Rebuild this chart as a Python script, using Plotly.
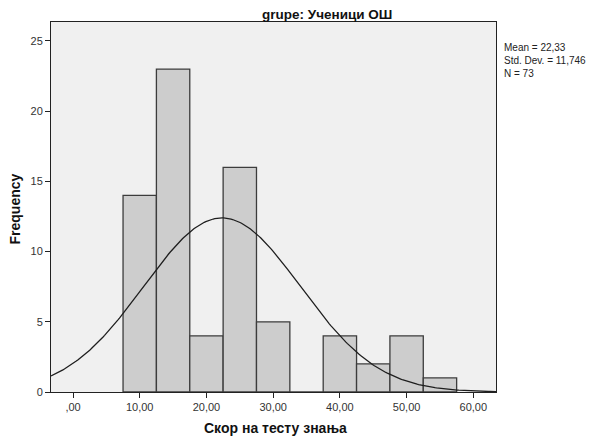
import numpy as np
import plotly.graph_objects as go

bin_centers = [10, 15, 20, 25, 30, 35, 40, 45, 50, 55]
counts = [14, 23, 4, 16, 5, 0, 4, 2, 4, 1]
bin_width = 5
mean_label = "22,33"
std_label = "11,746"
mean = 22.33
std = 11.746
n = 73
x_ticks = [0, 10, 20, 30, 40, 50, 60]
x_tick_labels = [",00", "10,00", "20,00", "30,00", "40,00", "50,00", "60,00"]
y_ticks = [0, 5, 10, 15, 20, 25]

xr = [-3.3, 63.4]
yr = [0, 26.35]

xs = np.linspace(xr[0], xr[1], 300)
ys = n * bin_width / (std * np.sqrt(2 * np.pi)) * np.exp(-0.5 * ((xs - mean) / std) ** 2)

fig = go.Figure()
fig.add_trace(go.Bar(
    x=bin_centers, y=counts, width=[bin_width] * len(bin_centers),
    marker=dict(color="#CDCDCD", line=dict(color="#3C3C3C", width=1.3)),
    hoverinfo="skip",
))
fig.add_trace(go.Scatter(x=xs, y=ys, mode="lines",
                         line=dict(color="#1E1E1E", width=1.3), hoverinfo="skip"))

# the page body adds an 8px offset; target page coords are offset-corrected below
OFF = 8
W, H = 601 - OFF, 440 - OFF
L, T = 51 - OFF, 22 - OFF
R = W - (496 - OFF)
B = H - (392 - OFF)
PW, PH = W - L - R, H - T - B

font = "Liberation Sans, Arial, sans-serif"
fig.update_layout(
    width=W, height=H,
    margin=dict(l=L, r=R, t=T, b=B),
    paper_bgcolor="white", plot_bgcolor="#F0F0F0",
    showlegend=False,
    font=dict(family=font, size=11, color="#222"),
    xaxis=dict(range=xr, tickvals=x_ticks, ticktext=x_tick_labels, automargin=False,
               showgrid=False, zeroline=False, showline=True, linecolor="#222", linewidth=1,
               mirror=True, ticks="outside", ticklen=5, tickcolor="#222",
               tickfont=dict(size=11, color="#333")),
    yaxis=dict(range=yr, tickvals=y_ticks, automargin=False,
               showgrid=False, zeroline=False, showline=True, linecolor="#222", linewidth=1,
               mirror=True, ticks="outside", ticklen=5, tickcolor="#222",
               tickfont=dict(size=11, color="#333")),
    annotations=[
        dict(text="<b>grupe: Ученици ОШ</b>", xref="paper", yref="paper",
             x=(327 - 51) / PW, y=1, yanchor="middle", xanchor="center",
             yshift=(22 - 14), showarrow=False, font=dict(size=13.5, color="#111")),
        dict(text=f"Mean = {mean_label}<br>Std. Dev. = {std_label}<br>N = {n}",
             xref="paper", yref="paper", x=1, xshift=6, y=(392 - 40) / PH,
             xanchor="left", yanchor="top", align="left", showarrow=False,
             font=dict(size=10, color="#222")),
        dict(text="<b>Скор на тесту знања</b>", xref="paper", yref="paper",
             x=(275 - 51) / PW, y=0, yanchor="middle", xanchor="center",
             yshift=-(428 - 392), showarrow=False, font=dict(size=14, color="#111")),
        dict(text="<b>Frequency</b>", xref="paper", yref="paper", textangle=-90,
             x=0, xanchor="center", xshift=-(51 - 14.5), y=(392 - 209) / PH, yanchor="middle",
             showarrow=False, font=dict(size=14, color="#111")),
    ],
)
fig.write_html("out.html")
